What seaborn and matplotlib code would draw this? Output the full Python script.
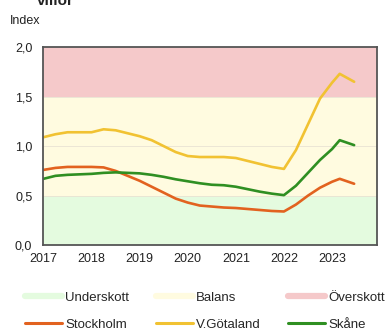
import matplotlib
matplotlib.use("Agg")
import matplotlib.pyplot as plt
import seaborn as sns
import pandas as pd
from matplotlib.lines import Line2D
from matplotlib.ticker import FuncFormatter

sns.set_theme(style="white")
plt.rcParams['font.family'] = ['Liberation Sans', 'DejaVu Sans']

# ---- data ----
years = [2017.0, 2017.25, 2017.5, 2017.75, 2018.0, 2018.25, 2018.5, 2018.75,
         2019.0, 2019.25, 2019.5, 2019.75, 2020.0, 2020.25, 2020.5, 2020.75,
         2021.0, 2021.25, 2021.5, 2021.75, 2022.0, 2022.25, 2022.5, 2022.75,
         2023.0, 2023.16, 2023.46]
stockholm = [0.76, 0.78, 0.79, 0.79, 0.79, 0.785, 0.75, 0.70,
             0.65, 0.59, 0.53, 0.47, 0.43, 0.40, 0.39, 0.38,
             0.375, 0.365, 0.355, 0.345, 0.34, 0.41, 0.50, 0.58,
             0.64, 0.67, 0.62]
vgotaland = [1.09, 1.12, 1.14, 1.14, 1.14, 1.17, 1.16, 1.13,
             1.10, 1.06, 1.00, 0.94, 0.90, 0.89, 0.89, 0.89,
             0.88, 0.85, 0.82, 0.79, 0.77, 0.96, 1.22, 1.48,
             1.64, 1.73, 1.65]
skane = [0.67, 0.70, 0.71, 0.715, 0.72, 0.73, 0.735, 0.73,
         0.725, 0.71, 0.69, 0.665, 0.645, 0.625, 0.61, 0.605,
         0.59, 0.565, 0.54, 0.52, 0.505, 0.60, 0.73, 0.86,
         0.97, 1.06, 1.01]
series_names = ["Stockholm", "V.Götaland", "Skåne"]
band_names = ["Underskott", "Balans", "Överskott"]
band_limits = [(0.0, 0.5), (0.5, 1.5), (1.5, 2.0)]
year_ticks = [2017, 2018, 2019, 2020, 2021, 2022, 2023]
y_ticks = [0.0, 0.5, 1.0, 1.5, 2.0]

series_colors = ["#e2621f", "#f1c232", "#2f8f22"]
band_colors = ["#e4fbdf", "#fffbe0", "#f5c9ca"]

df = pd.DataFrame({
    "year": years * 3,
    "value": stockholm + vgotaland + skane,
    "region": [series_names[0]] * len(years) + [series_names[1]] * len(years)
              + [series_names[2]] * len(years),
})

fig = plt.figure(figsize=(3.88, 3.34), dpi=100)
ax = fig.add_axes([0.112, 0.266, 0.859, 0.593])

for (lo, hi), c in zip(band_limits, band_colors):
    ax.axhspan(lo, hi, color=c, zorder=0, lw=0)
for yv in y_ticks[1:-1]:
    ax.axhline(yv, color="#e9e3d3", lw=0.6, zorder=0.5)

sns.lineplot(data=df, x="year", y="value", hue="region",
             palette=dict(zip(series_names, series_colors)),
             linewidth=1.9, ax=ax, legend=False, estimator=None, sort=False)

ax.set_xlim(2017, 2023.93)
ax.set_ylim(0, 2.0)
ax.set_xticks(year_ticks)
ax.set_yticks(y_ticks)
ax.yaxis.set_major_formatter(FuncFormatter(lambda v, p: f"{v:.1f}".replace(".", ",")))
ax.tick_params(axis="both", length=0, labelsize=9, colors="#222222")
ax.tick_params(axis="x", pad=6)
ax.tick_params(axis="y", pad=8)
ax.set_xlabel("")
ax.set_ylabel("")
for s in ax.spines.values():
    s.set_color("#555555")
    s.set_linewidth(1.3)

fig.text(10 / 388, 1 - 21 / 334, "Index", fontsize=9, color="#222222", va="center")
fig.text(37 / 388, 1 - 5 / 334, "villor", fontsize=11, fontweight="bold",
         color="#222222", va="baseline")

handles = []
labels = []
for i in range(3):
    handles.append(Line2D([], [], color=band_colors[i], lw=4.5))
    labels.append(band_names[i])
    handles.append(Line2D([], [], color=series_colors[i], lw=2.2))
    labels.append(series_names[i])

fig.legend(handles, labels, ncol=3, loc="center", bbox_to_anchor=(0.528, 0.069),
           frameon=False, fontsize=9.5, handlelength=2.8, handletextpad=0.25,
           columnspacing=2.05, labelspacing=1.12)

fig.savefig("out.png", dpi=100)
